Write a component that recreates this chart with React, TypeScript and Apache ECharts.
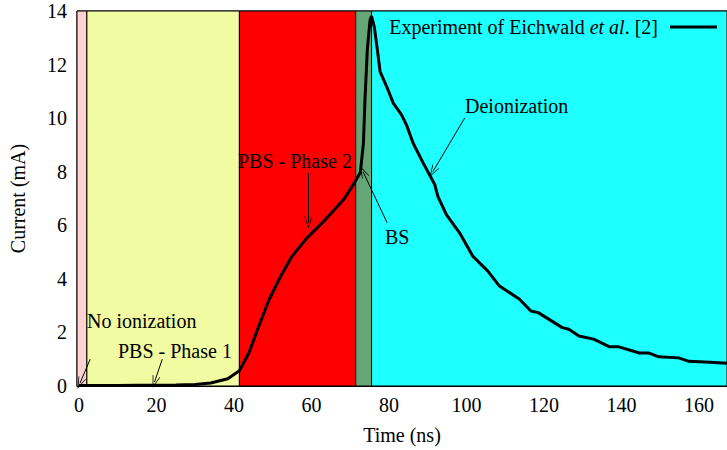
import React, { useEffect, useRef } from "react";
import * as echarts from "echarts";

const timeNs = [0, 5, 10, 15, 20, 25, 30, 34, 38.4, 41.4, 43.9, 46.1, 49.1, 52.1, 55.0, 58.9, 63.2, 68.3, 71.3, 72.6, 73.4, 73.8, 74.4, 75.1, 75.5, 76.2, 77.0, 77.7, 79.4, 81.1, 83.2, 84.5, 86.2, 88.8, 91.8, 92.6, 94.8, 98.2, 101.6, 105.5, 108.5, 113.6, 116.6, 118.5, 124.7, 126.4, 129.0, 132.8, 136.8, 139.1, 144.6, 147.1, 149.6, 154.7, 157.4, 162.8, 167.2];
const currentMA = [0.02, 0.02, 0.02, 0.03, 0.03, 0.04, 0.06, 0.11, 0.27, 0.57, 1.25, 2.12, 3.24, 4.11, 4.85, 5.54, 6.15, 6.96, 7.64, 7.97, 9.07, 10.7, 12.55, 13.66, 13.81, 13.41, 12.55, 11.74, 11.18, 10.56, 10.13, 9.75, 9.07, 8.33, 7.52, 7.08, 6.40, 5.72, 4.85, 4.29, 3.73, 3.25, 2.80, 2.74, 2.18, 2.12, 1.87, 1.75, 1.47, 1.47, 1.23, 1.23, 1.09, 1.05, 0.92, 0.89, 0.85];

const xTicks = [0, 20, 40, 60, 80, 100, 120, 140, 160];

const bandNames = ["No ionization", "PBS - Phase 1", "PBS - Phase 2", "BS", "Deionization"];
const bandStart = [-0.5, 2.05, 41.4, 71.4, 75.5];
const bandEnd = [2.05, 41.4, 71.4, 75.5, 167.2];
const bandColors = ["#ffd2d2", "#f1fba2", "#ff0000", "#65a676", "#1effff"];

// annotation arrows: [fromT, fromI] -> [toT, toI]
const arrowFrom = [[2.9, 1.0], [21.5, 1.0], [59.2, 7.95], [79.5, 6.1], [99.5, 10.0]];
const arrowTo = [[0.25, 0.1], [19.5, 0.15], [59.2, 6.1], [73.3, 8.0], [91.3, 8.0]];

const FONT = "Liberation Serif, DejaVu Serif, serif";
const FS = 20;

export default function App() {
  const ref = useRef<HTMLDivElement>(null);
  useEffect(() => {
    if (!ref.current) return;
    const chart = echarts.init(ref.current, undefined, { renderer: "svg" });
    const vHead = "path://M5,0 L10,12 L9,12 L5,2.4 L1,12 L0,12 Z";
    const txt = (s: string, left: number, top: number) => ({
      type: "text",
      left,
      top,
      z: 100,
      style: { text: s, fontFamily: FONT, fontSize: FS, fill: "#000" },
    });
    const option: any = {
      animation: false,
      backgroundColor: "#ffffff",
      textStyle: { fontFamily: FONT },
      grid: {
        left: 75,
        right: -2,
        top: 11,
        bottom: 63,
        show: true,
        borderColor: "#000",
        borderWidth: 1,
        backgroundColor: "transparent",
      },
      legend: {
        show: true,
        right: 10,
        top: 17,
        align: "right",
        padding: 0,
        itemWidth: 47,
        itemHeight: 14,
        icon: "path://M0,5.5 L47,5.5 L47,8.5 L0,8.5 Z",
        itemStyle: { color: "#000" },
        formatter: () => "{a|Experiment of Eichwald }{i|et al}{a|. [2]}{p|}",
        textStyle: {
          fontFamily: FONT,
          fontSize: FS,
          color: "#000",
          rich: {
            a: { fontFamily: FONT, fontSize: FS, color: "#000" },
            i: { fontFamily: FONT, fontSize: FS, color: "#000", fontStyle: "italic" },
            p: { width: 7 },
          },
        },
        data: ["Experiment of Eichwald et al. [2]"],
      },
      xAxis: {
        type: "value",
        min: -0.5,
        max: 167.2,
        name: "Time (ns)",
        nameLocation: "middle",
        nameGap: 39,
        nameTextStyle: { fontFamily: FONT, fontSize: FS, color: "#000" },
        axisLine: { show: true, onZero: false, lineStyle: { color: "#000", width: 1 } },
        axisTick: { show: false, customValues: xTicks },
        axisLabel: { customValues: xTicks, fontFamily: FONT, fontSize: FS, color: "#000", margin: 9 },
        splitLine: { show: false },
      },
      yAxis: {
        type: "value",
        min: 0,
        max: 14,
        interval: 2,
        name: "Current (mA)",
        nameLocation: "middle",
        nameGap: 49,
        nameTextStyle: { fontFamily: FONT, fontSize: FS, color: "#000" },
        axisLine: { show: true, lineStyle: { color: "#000", width: 1 } },
        axisTick: { show: false },
        axisLabel: { fontFamily: FONT, fontSize: FS, color: "#000", margin: 10 },
        splitLine: { show: false },
      },
      series: [
        {
          name: "Experiment of Eichwald et al. [2]",
          type: "line",
          symbol: "none",
          data: timeNs.map((t, i) => [t, currentMA[i]]),
          lineStyle: { color: "#000", width: 3 },
          itemStyle: { color: "#000" },
          z: 5,
          markArea: {
            silent: true,
            data: bandNames.map((n, i) => [
              { name: n, xAxis: bandStart[i], itemStyle: { color: bandColors[i], borderColor: "#000", borderWidth: 1, opacity: 1 } },
              { xAxis: bandEnd[i] },
            ]),
            label: { show: false },
          },
        },
        {
          name: "arrows",
          type: "line",
          data: [],
          z: 6,
          markLine: {
            silent: true,
            symbol: ["none", vHead],
            symbolSize: [8, 12],
            label: { show: false },
            lineStyle: { color: "#000", width: 1, type: "solid" },
            data: arrowFrom.map((f, i) => [{ coord: f }, { coord: arrowTo[i] }]),
          },
        },
      ],
      graphic: [
        txt(bandNames[0], 87, 311),
        txt(bandNames[1], 118, 341),
        txt(bandNames[2], 238, 151),
        txt(bandNames[3], 385, 227),
        txt(bandNames[4], 465, 96),
      ],
    };
    chart.setOption(option);
    return () => chart.dispose();
  }, []);
  return <div ref={ref} style={{ width: 727, height: 450, position: "absolute", left: 0, top: 0 }} />;
}
